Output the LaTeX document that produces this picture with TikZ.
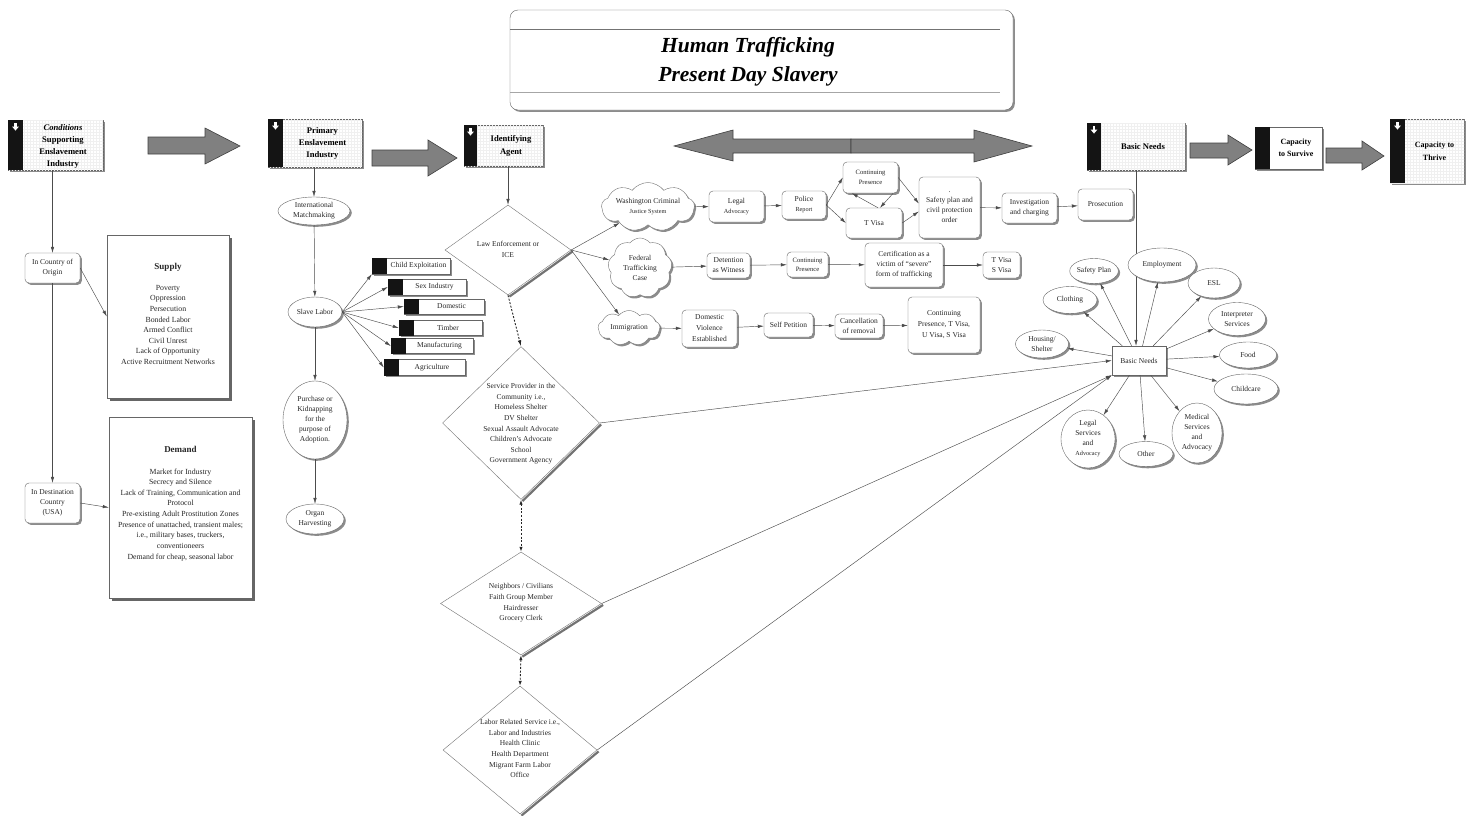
\documentclass[tikz,border=0pt]{standalone}
\usepackage{fontspec}
\setmainfont{Liberation Serif}
\usetikzlibrary{shapes.geometric,shapes.symbols,shadows,arrows.meta,patterns}
\newcommand\lblfont{\fontsize{7.5}{10}\selectfont}
\newcommand\tinylbl{\fontsize{6.2}{8}\selectfont}
\newcommand\hdrfont{\fontsize{8.6}{12.2}\selectfont\bfseries}
\tikzset{
 shd/.style={drop shadow={shadow xshift=1.8pt,shadow yshift=-1.8pt,fill=black!60,opacity=.75}},
 shdb/.style={drop shadow={shadow xshift=2.6pt,shadow yshift=-2.6pt,fill=black!70,opacity=.85}},
 txt/.style={font=\lblfont,text=black!85,align=center,inner sep=0pt},
 rb/.style={draw=black!60,fill=white,rounded corners=4pt,shd,inner sep=0pt,font=\lblfont,text=black!85,align=center},
 el/.style={ellipse,draw=black!60,fill=white,shd,inner sep=0pt,font=\lblfont,text=black!85,align=center},
 cl/.style={cloud,cloud puffs=9,cloud puff arc=105,cloud ignores aspect,draw=black!55,fill=white,shd,inner sep=0pt,font=\lblfont,text=black!85,align=center},
 dm/.style={diamond,draw=black!55,fill=white,inner sep=0pt},
 hdr/.style={draw=black!60,fill=white,shd,inner sep=0pt},
 gridfill/.style={postaction={pattern=grid,pattern color=black!6}},
 htxt/.style={font=\hdrfont,align=center,inner sep=0pt},
 sbox/.style={draw=black!60,fill=white,shd,inner sep=0pt},
 bigbox/.style={draw=black!60,fill=white,shdb,inner sep=0pt},
 ar/.style={draw=black!70,line width=.45pt,-{Latex[length=6pt,width=3.4pt]}},
 dar/.style={draw=black!85,line width=.9pt,dash pattern=on 2pt off 1.6pt,-{Latex[length=6pt,width=3.6pt]}},
 dar2/.style={draw=black!85,line width=.9pt,dash pattern=on 2pt off 1.6pt,{Latex[length=5pt,width=3.4pt]}-{Latex[length=5pt,width=3.4pt]}},
 blk/.style={fill=black!50,draw=black!75,line width=.6pt,line join=miter},
 dsh/.style={draw=black!55,line width=2.2pt},
 strip/.style={fill=black!92},
 dnarrow/.pic={\fill[white] (-1.3,0) rectangle (1.3,3.6); \fill[white] (-3.4,3.6) -- (3.4,3.6) -- (0,7.6) -- cycle;}
}
\begin{document}
\begin{tikzpicture}[x=1pt,y=-1pt]
\fill[white] (0,0) rectangle (1473,816);
\useasboundingbox (0,0) rectangle (1473,816);

% ---------- title ----------
\node[draw=black!60,fill=white,rounded corners=8pt,shd,minimum width=503,minimum height=100] (title) at (761.5,60) {};
\draw[black!55] (510,29) -- (1000,29);
\draw[black!35] (510,92) -- (1000,92);
\node[font=\fontsize{21.5}{29}\selectfont\bfseries\itshape,align=center] (titlet) at (748,62) {Human Trafficking\\Present Day Slavery};

% ---------- header boxes ----------
\node[hdr,gridfill,minimum width=95,minimum height=50] (cond) at (55.5,145) {};
\fill[strip] (cond.north west) rectangle ([xshift=15pt]cond.south west);
\pic at (15.5,123) {dnarrow};
\node[htxt] (condt) at (63,146.5) {\textit{Conditions}\\Supporting\\Enslavement\\Industry};

\node[hdr,gridfill,minimum width=94,minimum height=48] (prim) at (315,143) {};
\fill[strip] (prim.north west) rectangle ([xshift=15pt]prim.south west);
\pic at (275.5,122) {dnarrow};
\node[htxt] (primt) at (322.5,143.5) {Primary\\Enslavement\\Industry};

\node[hdr,gridfill,minimum width=79,minimum height=41] (ida) at (503.5,145.5) {};
\fill[strip] (ida.north west) rectangle ([xshift=13pt]ida.south west);
\pic at (470.5,128) {dnarrow};
\node[htxt] (idat) at (511,146) {Identifying\\Agent};

\node[hdr,gridfill,minimum width=98,minimum height=47] (bnh) at (1136,146.5) {};
\fill[strip] (bnh.north west) rectangle ([xshift=14pt]bnh.south west);
\pic at (1094,126) {dnarrow};
\node[htxt] (bnht) at (1143,147) {Basic Needs};

\node[hdr,minimum width=67,minimum height=42] (cs) at (1288.5,148) {};
\fill[strip] (cs.north west) rectangle ([xshift=15pt]cs.south west);
\node[htxt,font=\fontsize{8}{12}\selectfont\bfseries] (cst) at (1296,148) {Capacity\\to Survive};

\node[hdr,gridfill,minimum width=74,minimum height=64] (ct) at (1427,151) {};
\fill[strip] (ct.north west) rectangle ([xshift=15pt]ct.south west);
\pic at (1397.5,122) {dnarrow};
\node[htxt,font=\fontsize{8}{13}\selectfont\bfseries] (ctt) at (1434.5,151.5) {Capacity to\\Thrive};

% ---------- block arrows ----------
\draw[blk] (148,137) -- (205,137) -- (205,128) -- (240,146) -- (205,164) -- (205,154) -- (148,154) -- cycle;
\draw[blk] (372,150) -- (428,150) -- (428,140) -- (457,158) -- (428,176) -- (428,166) -- (372,166) -- cycle;
\draw[blk] (674,146) -- (733,130) -- (733,139) -- (851,139) -- (851,153) -- (733,153) -- (733,161) -- cycle;
\draw[blk] (851,139) -- (974,139) -- (974,130) -- (1032,146) -- (974,162) -- (974,153) -- (851,153) -- cycle;
\draw[blk] (1190,143) -- (1228,143) -- (1228,135) -- (1252,150) -- (1228,165) -- (1228,158) -- (1190,158) -- cycle;
\draw[blk] (1326,148) -- (1362,148) -- (1362,141) -- (1384,156) -- (1362,170) -- (1362,163) -- (1326,163) -- cycle;

% ---------- left column ----------
\node[rb,minimum width=55,minimum height=30] (ico) at (52.5,268) {In Country of\\Origin};
\node[rb,minimum width=55,minimum height=40] (idc) at (52.5,503) {In Destination\\Country\\(USA)};
\node[bigbox,minimum width=122,minimum height=163] (sup) at (168,316.5) {};
\node[txt,font=\fontsize{7.8}{10.6}\selectfont] (supt) at (168,314) {{\fontsize{9}{10.6}\selectfont\bfseries Supply}\\[10pt]Poverty\\Oppression\\Persecution\\Bonded Labor\\Armed Conflict\\Civil Unrest\\Lack of Opportunity\\Active Recruitment Networks};
\node[bigbox,minimum width=143,minimum height=181] (dem) at (180.5,507.5) {};
\node[txt,font=\fontsize{7.8}{10.65}\selectfont] (demt) at (180.5,503.5) {{\fontsize{9}{10.6}\selectfont\bfseries Demand}\\[11pt]Market for Industry\\Secrecy and Silence\\Lack of Training, Communication and\\Protocol\\Pre-existing Adult Prostitution Zones\\Presence of unattached, transient males;\\i.e., military bases, truckers,\\conventioneers\\Demand for cheap, seasonal labor};
\draw[ar] (ico.north |- cond.south) -- (ico.north);
\draw[ar] (ico.east) -- (sup.west);
\draw[ar] (ico.south) -- (idc.north);
\draw[ar] (idc.east) -- (dem.west);

% ---------- primary column ----------
\node[el,minimum width=72,minimum height=28] (im) at (314,211) {International\\Matchmaking};
\node[el,minimum width=54,minimum height=30] (sl) at (315,312) {Slave Labor};
\node[el,minimum width=64,minimum height=78] (pk) at (315,420) {Purchase or\\Kidnapping\\for the\\purpose of\\Adoption.};
\node[el,minimum width=58,minimum height=30] (oh) at (315,519) {Organ\\Harvesting};
\draw[ar] (prim.south -| im.north) -- (im.north);
\draw[ar] (im) -- (sl);
\draw[ar] (sl) -- (pk);
\draw[ar] (pk) -- (oh);

\node[sbox,minimum width=78,minimum height=16] (ce) at (411,266) {};
\node[sbox,minimum width=78,minimum height=16] (si) at (427,287) {};
\node[sbox,minimum width=80,minimum height=15] (dom) at (444,306.5) {};
\node[sbox,minimum width=83,minimum height=15] (tim) at (440.5,328) {};
\node[sbox,minimum width=82,minimum height=15] (man) at (432,346) {};
\node[sbox,minimum width=81,minimum height=16] (agr) at (424.5,367.5) {};
\foreach \b in {ce,si,dom,tim,man,agr}{\fill[strip] (\b.north west) rectangle ([xshift=15pt]\b.south west);}
\node[txt] (cet) at ([xshift=7.5pt]ce.center) {Child Exploitation};
\node[txt] (sit) at ([xshift=7.5pt]si.center) {Sex Industry};
\node[txt] (domt) at ([xshift=7.5pt]dom.center) {Domestic};
\node[txt] (timt) at ([xshift=7.5pt]tim.center) {Timber};
\node[txt] (mant) at ([xshift=7.5pt]man.center) {Manufacturing};
\node[txt] (agrt) at ([xshift=7.5pt]agr.center) {Agriculture};
\draw[ar] (sl.east) -- (ce.south west);
\draw[ar] (sl.east) -- (si.west);
\draw[ar] (sl.east) -- (dom.west);
\draw[ar] (sl.east) -- (tim.west);
\draw[ar] (sl.east) -- (man.west);
\draw[ar] (sl.east) -- (agr.west);

% ---------- identifying agent column ----------
\node[dm,minimum width=126,minimum height=90] (le) at (508,250) {};
\node[dm,minimum width=157,minimum height=153] (sp) at (521,423) {};
\node[dm,minimum width=161,minimum height=103] (nb) at (521,603.5) {};
\node[dm,minimum width=154,minimum height=128] (lab) at (520,750) {};
\foreach \d in {le,sp,nb,lab}{\draw[dsh] ([xshift=1.4pt,yshift=-1.4pt]\d.east) -- ([xshift=1.4pt,yshift=-1.4pt]\d.south);}
\node[txt,font=\fontsize{7.5}{11}\selectfont] (let) at (508,249) {Law Enforcement or\\ICE};
\node[txt,font=\fontsize{7.5}{10.6}\selectfont] (spt) at (521,424) {Service Provider in the\\Community i.e.,\\Homeless Shelter\\DV Shelter\\Sexual Assault Advocate\\Children's Advocate\\School\\Government Agency};
\node[txt,font=\fontsize{7.5}{10.7}\selectfont] (nbt) at (521,603) {Neighbors / Civilians\\Faith Group Member\\Hairdresser\\Grocery Clerk};
\node[txt,font=\fontsize{7.5}{10.7}\selectfont] (labt) at (520,748.5) {Labor Related Service i.e.,\\Labor and Industries\\Health Clinic\\Health Department\\Migrant Farm Labor\\Office};
\draw[ar] (le.north |- ida.south) -- (le.north);
\draw[dar] (le.south) -- (sp.north);
\draw[dar2] (sp.south) -- (nb.north);
\draw[dar2] (nb.south) -- (lab.north);

% ---------- clouds and rows ----------
\node[cl,minimum width=93,minimum height=49] (wcj) at (648,207) {Washington Criminal\\{\tinylbl Justice System}};
\node[cl,minimum width=64,minimum height=60] (ftc) at (640,268) {Federal\\Trafficking\\Case};
\node[cl,minimum width=62,minimum height=35] (imm) at (629,328) {Immigration};
\draw[ar] (le.east) -- (wcj);
\draw[ar] (le.east) -- (ftc);
\draw[ar] (le.east) -- (imm);

\node[rb,minimum width=55,minimum height=31] (la) at (736.5,206.5) {Legal\\{\tinylbl Advocacy}};
\node[rb,minimum width=44,minimum height=28] (pr) at (804,205) {Police\\{\tinylbl Report}};
\node[rb,minimum width=55,minimum height=31,font=\fontsize{6.6}{9.5}\selectfont] (cp1) at (870.5,177.5) {Continuing\\Presence};
\node[rb,minimum width=56,minimum height=30] (tv1) at (874,223) {T Visa};
\node[rb,minimum width=61,minimum height=61] (spo) at (949.5,207.5) {.\\Safety plan and\\civil protection\\order};
\node[rb,minimum width=55,minimum height=30] (inv) at (1029.5,208) {Investigation\\and charging};
\node[rb,minimum width=55,minimum height=31] (pros) at (1105.5,204.5) {Prosecution};
\draw[ar] (wcj) -- (la);
\draw[ar] (la) -- (pr);
\draw[ar] (pr.east) -- (cp1.west);
\draw[ar] (pr.east) -- (tv1.west);
\draw[ar] ([xshift=4pt]tv1.north) -- ([xshift=9pt]cp1.south west);
\draw[ar] ([xshift=-5pt]cp1.south east) -- ([xshift=6pt]tv1.north);
\draw[ar] (cp1.east) -- ([yshift=4pt]spo.west);
\draw[ar] (tv1.east) -- ([yshift=-4pt]spo.west);
\draw[ar] (spo) -- (inv);
\draw[ar] (inv) -- (pros);

\node[rb,minimum width=43,minimum height=25] (dw) at (728.5,265.5) {Detention\\as Witness};
\node[rb,minimum width=41,minimum height=25,font=\fontsize{6.6}{9}\selectfont] (cp2) at (807.5,264.5) {Continuing\\Presence};
\node[rb,minimum width=78,minimum height=44] (cert) at (904,265) {Certification as a\\victim of ``severe''\\form of trafficking};
\node[rb,minimum width=37,minimum height=26] (tsv) at (1001.5,265) {T Visa\\S Visa};
\draw[ar] (ftc) -- (dw);
\draw[ar] (dw) -- (cp2);
\draw[ar] (cp2) -- (cert);
\draw[ar] (cert) -- (tsv);

\node[rb,minimum width=55,minimum height=37,font=\fontsize{7.5}{11}\selectfont] (dv) at (709.5,328.5) {Domestic\\Violence\\Established};
\node[rb,minimum width=49,minimum height=24] (spet) at (788.5,325) {Self Petition};
\node[rb,minimum width=48,minimum height=24] (canc) at (859,326) {Cancellation\\of removal};
\node[rb,minimum width=72,minimum height=56,font=\fontsize{7.5}{11}\selectfont] (cpv) at (944,325) {Continuing\\Presence, T Visa,\\U Visa, S Visa};
\draw[ar] (imm) -- (dv);
\draw[ar] (dv) -- (spet);
\draw[ar] (spet) -- (canc);
\draw[ar] (canc) -- (cpv);

% ---------- basic needs ----------
\node[draw=black!60,fill=white,shd,minimum width=54,minimum height=29,font=\lblfont,text=black!85] (bn) at (1139,360.5) {Basic Needs};
\draw[ar] (bnh.south) -- (bnh.south |- bn.north);
\draw[ar] (sp.east) -- (bn.west);
\draw[ar] (nb.east) -- (bn.south west);
\draw[ar] (lab.east) -- (bn.south west);

\node[el,minimum width=48,minimum height=25] (sfp) at (1094,271) {Safety Plan};
\node[el,minimum width=68,minimum height=34] (emp) at (1162,265) {Employment};
\node[el,minimum width=52,minimum height=30] (esl) at (1214,283) {ESL};
\node[el,minimum width=57,minimum height=33] (intp) at (1237,319) {Interpreter\\Services};
\node[el,minimum width=57,minimum height=26] (food) at (1248,355) {Food};
\node[el,minimum width=64,minimum height=30] (chc) at (1246,389) {Childcare};
\node[el,minimum width=50,minimum height=60] (med) at (1197,433) {Medical\\Services\\and\\Advocacy};
\node[el,minimum width=54,minimum height=25] (oth) at (1146,454) {Other};
\node[el,minimum width=54,minimum height=58] (lgl) at (1088,439) {Legal\\Services\\and\\{\tinylbl Advocacy}};
\node[el,minimum width=53,minimum height=28] (hou) at (1042,344) {Housing/\\Shelter};
\node[el,minimum width=54,minimum height=27] (clo) at (1070,300) {Clothing};
\foreach \s in {sfp,emp,esl,intp,food,chc,med,oth,lgl,hou,clo}{\draw[ar] (bn) -- (\s);}
\end{tikzpicture}
\end{document}
